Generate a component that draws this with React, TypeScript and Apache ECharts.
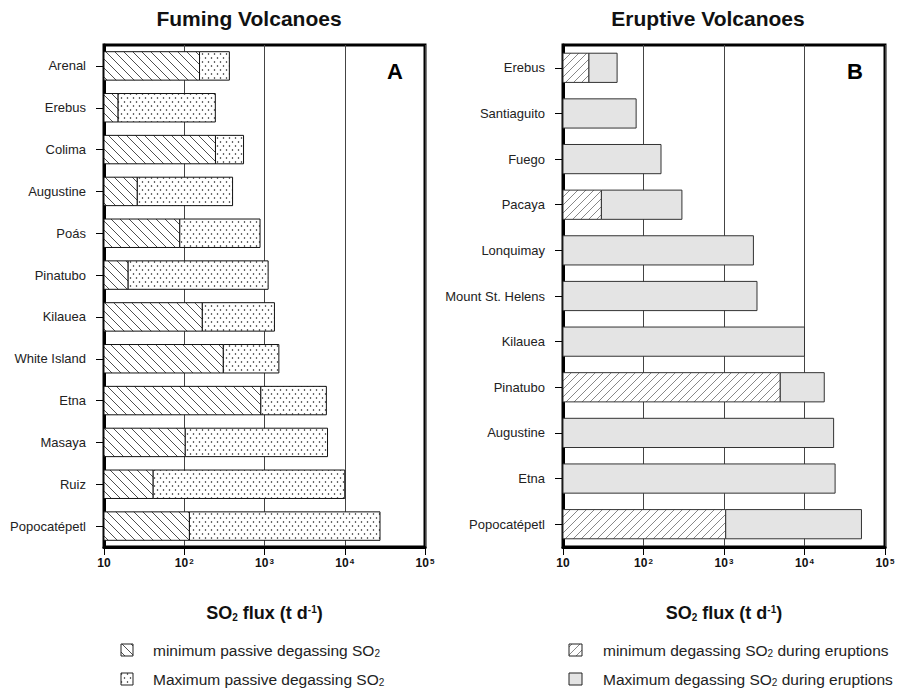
import { useEffect, useRef } from 'react';
import * as echarts from 'echarts';

const AXIS_MIN = 10;
const AXIS_MAX = 100000;
const FONT = '"Liberation Sans", Arial, Helvetica, sans-serif';

// Fuming (passive degassing) volcanoes, t/d
const fumingNames = ['Arenal', 'Erebus', 'Colima', 'Augustine', 'Poás', 'Pinatubo', 'Kilauea', 'White Island', 'Etna', 'Masaya', 'Ruiz', 'Popocatépetl'];
const fumingMin = [155, 15, 245, 26, 88, 20, 168, 307, 900, 103, 41, 116];
const fumingMax = [365, 244, 548, 400, 880, 1110, 1330, 1510, 5900, 6100, 10000, 27500];

// Eruptive volcanoes, t/d (null = no minimum reported)
const eruptiveNames = ['Erebus', 'Santiaguito', 'Fuego', 'Pacaya', 'Lonquimay', 'Mount St. Helens', 'Kilauea', 'Pinatubo', 'Augustine', 'Etna', 'Popocatépetl'];
const eruptiveMin: (number | null)[] = [21, null, null, 30, null, null, null, 5000, null, null, 1050];
const eruptiveMax = [47, 81, 165, 300, 2320, 2570, 10000, 17600, 23000, 24000, 51000];

const svgUrl = (svg: string) => 'data:image/svg+xml;charset=utf-8,' + encodeURIComponent(svg);

const pattern = (svg: string, w: number, h: number) => ({
  image: svgUrl(svg),
  repeat: 'repeat',
  imageWidth: w,
  imageHeight: h,
});

// "\" hatching
const backHatch = pattern(
  '<svg xmlns="http://www.w3.org/2000/svg" width="9" height="9"><rect width="9" height="9" fill="#ffffff"/>' +
    '<path d="M-1 -1L10 10M-1 8L1 10M8 -1L10 1" stroke="#222222" stroke-width="0.8" fill="none"/></svg>',
  9,
  9
);
// stippled fill
const dots = pattern(
  '<svg xmlns="http://www.w3.org/2000/svg" width="6" height="8"><rect width="6" height="8" fill="#ffffff"/>' +
    '<circle cx="1.5" cy="2" r="0.75" fill="#111111"/><circle cx="4.5" cy="6" r="0.75" fill="#111111"/></svg>',
  6,
  8
);
// "/" hatching, lighter
const fwdHatch = pattern(
  '<svg xmlns="http://www.w3.org/2000/svg" width="8" height="8"><rect width="8" height="8" fill="#ffffff"/>' +
    '<path d="M-1 9L9 -1M-1 1L1 -1M7 9L9 7" stroke="#555555" stroke-width="0.7" fill="none"/></svg>',
  8,
  8
);
const GRAY = '#e4e4e4';

const supLabel = (v: number) => {
  const e = Math.round(Math.log10(v));
  return e === 1 ? '10' : `10{sup|${e}}`;
};

function makeRenderer(count: number, ratio: number, minFill: any, maxFill: any, stroke: string) {
  return (params: any, api: any) => {
    const cat = api.value(0);
    const lo = api.value(1);
    const hi = api.value(2);
    const base = api.coord([AXIS_MIN, cat]);
    const band = params.coordSys.height / count;
    const h = band * ratio;
    const y = base[1] - h / 2;
    const xHi = api.coord([hi, cat])[0];
    const children: any[] = [];
    if (lo != null && !isNaN(lo)) {
      const xLo = api.coord([lo, cat])[0];
      children.push({
        type: 'rect',
        shape: { x: base[0], y, width: xLo - base[0], height: h },
        style: { fill: minFill, stroke, lineWidth: 1 },
      });
      children.push({
        type: 'rect',
        shape: { x: xLo, y, width: xHi - xLo, height: h },
        style: { fill: maxFill, stroke, lineWidth: 1 },
      });
    } else {
      children.push({
        type: 'rect',
        shape: { x: base[0], y, width: xHi - base[0], height: h },
        style: { fill: maxFill, stroke, lineWidth: 1 },
      });
    }
    return { type: 'group', children };
  };
}

function xAxisFor(gridIndex: number) {
  return {
    type: 'log',
    logBase: 10,
    gridIndex,
    min: AXIS_MIN,
    max: AXIS_MAX,
    axisLine: { show: true, lineStyle: { color: '#000', width: 3 } },
    axisTick: { show: true, length: 8, lineStyle: { color: '#000', width: 1 } },
    minorTick: { show: false },
    splitLine: { show: true, lineStyle: { color: '#444', width: 1 } },
    axisLabel: {
      margin: 10,
      formatter: supLabel,
      color: '#111',
      fontFamily: FONT,
      fontWeight: 'bold',
      fontSize: 12,
      rich: {
        sup: { fontSize: 8, fontWeight: 'bold', fontFamily: FONT, color: '#111', verticalAlign: 'top', lineHeight: 8, padding: [0, 0, 6, 1] },
      },
    },
    name: 'SO{sub|2} flux (t d{sup|-1})',
    nameLocation: 'middle',
    nameGap: 57,
    nameTextStyle: {
      fontFamily: FONT,
      fontWeight: 'bold',
      fontSize: 18,
      color: '#111',
      rich: {
        sub: { fontFamily: FONT, fontWeight: 'bold', fontSize: 10, color: '#111', padding: [8, 0, 0, 0] },
        sup: { fontFamily: FONT, fontWeight: 'bold', fontSize: 10, color: '#111', padding: [0, 0, 8, 0] },
      },
    },
  };
}

function yAxisFor(gridIndex: number, names: string[]) {
  return {
    type: 'category',
    gridIndex,
    data: names,
    inverse: true,
    axisLine: { show: true, lineStyle: { color: '#000', width: 3 } },
    axisTick: { show: true, alignWithLabel: true, length: 8, lineStyle: { color: '#000', width: 1 } },
    splitLine: { show: false },
    axisLabel: { margin: 18, color: '#222', fontFamily: FONT, fontSize: 13 },
  };
}

const legendText = (text: string) => ({
  text,
  rich: {
    sub: { fontFamily: FONT, fontSize: 10, fill: '#222', padding: [7, 0, 0, 0] },
  },
  fontFamily: FONT,
  fontSize: 15.5,
  fill: '#222',
  verticalAlign: 'middle',
});

const titleStyle = (text: string) => ({
  text,
  fontFamily: FONT,
  fontWeight: 'bold',
  fontSize: 21,
  fill: '#111',
  align: 'center',
  verticalAlign: 'middle',
});

export default function App() {
  const ref = useRef<HTMLDivElement>(null);

  useEffect(() => {
    document.body.style.margin = '0';
    if (!ref.current) return;
    const chart = echarts.init(ref.current, undefined, { renderer: 'svg' });

    const fumingData = fumingNames.map((_, i) => [i, fumingMin[i], fumingMax[i]]);
    const eruptiveData = eruptiveNames.map((_, i) => [i, eruptiveMin[i] ?? '-', eruptiveMax[i]]);

    chart.setOption({
      animation: false,
      backgroundColor: '#fff',
      grid: [
        { left: 104, right: 476, top: 45, bottom: 146, show: true, borderColor: '#000', borderWidth: 3 },
        { left: 563, right: 16, top: 45, bottom: 146, show: true, borderColor: '#000', borderWidth: 3 },
      ],
      xAxis: [xAxisFor(0), xAxisFor(1)],
      yAxis: [yAxisFor(0, fumingNames), yAxisFor(1, eruptiveNames)],
      series: [
        {
          type: 'custom',
          name: 'Fuming',
          xAxisIndex: 0,
          yAxisIndex: 0,
          encode: { x: [1, 2], y: 0 },
          renderItem: makeRenderer(fumingNames.length, 0.68, backHatch, dots, '#111'),
          data: fumingData,
          z: 3,
        },
        {
          type: 'custom',
          name: 'Eruptive',
          xAxisIndex: 1,
          yAxisIndex: 1,
          encode: { x: [1, 2], y: 0 },
          renderItem: makeRenderer(eruptiveNames.length, 0.64, fwdHatch, GRAY, '#333'),
          data: eruptiveData,
          z: 3,
        },
      ],
      graphic: [
        { type: 'text', x: 249, y: 18, style: titleStyle('Fuming Volcanoes') },
        { type: 'text', x: 708, y: 18, style: titleStyle('Eruptive Volcanoes') },
        { type: 'text', x: 395, y: 71, style: { text: 'A', fontFamily: FONT, fontWeight: 'bold', fontSize: 22, fill: '#000', align: 'center', verticalAlign: 'middle' } },
        { type: 'text', x: 855, y: 71, style: { text: 'B', fontFamily: FONT, fontWeight: 'bold', fontSize: 22, fill: '#000', align: 'center', verticalAlign: 'middle' } },
        // legend, fuming panel
        { type: 'rect', shape: { x: 121, y: 644, width: 12, height: 12 }, style: { fill: backHatch as any, stroke: '#222', lineWidth: 1 } },
        { type: 'text', x: 153, y: 650, style: legendText('minimum passive degassing SO{sub|2}') },
        { type: 'rect', shape: { x: 121, y: 673, width: 12, height: 12 }, style: { fill: dots as any, stroke: '#222', lineWidth: 1 } },
        { type: 'text', x: 153, y: 679, style: legendText('Maximum passive degassing SO{sub|2}') },
        // legend, eruptive panel
        { type: 'rect', shape: { x: 569, y: 644, width: 13, height: 12 }, style: { fill: fwdHatch as any, stroke: '#222', lineWidth: 1 } },
        { type: 'text', x: 603, y: 650, style: legendText('minimum degassing SO{sub|2} during eruptions') },
        { type: 'rect', shape: { x: 569, y: 673, width: 13, height: 12 }, style: { fill: GRAY, stroke: '#222', lineWidth: 1 } },
        { type: 'text', x: 603, y: 679, style: legendText('Maximum degassing SO{sub|2} during eruptions') },
      ],
    });

    return () => chart.dispose();
  }, []);

  return <div ref={ref} style={{ width: 901, height: 693 }} />;
}
